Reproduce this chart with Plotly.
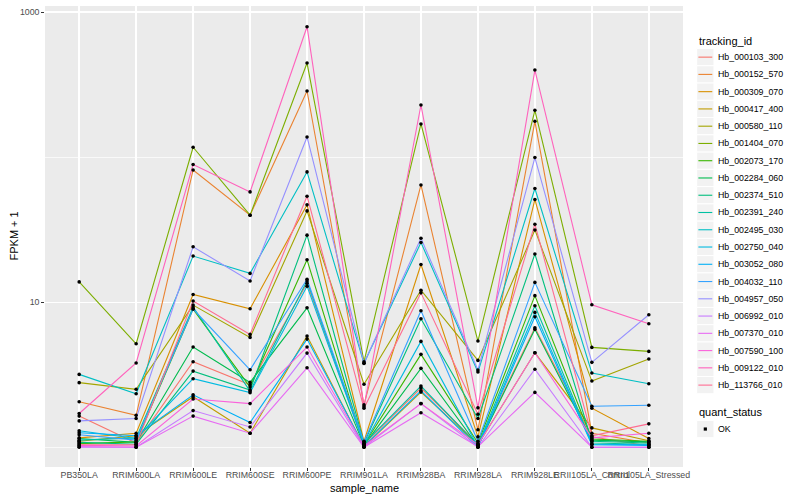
import plotly.graph_objects as go

# ---------------- data ----------------
sample_names = ["PB350LA", "RRIM600LA", "RRIM600LE", "RRIM600SE", "RRIM600PE",
                "RRIM901LA", "RRIM928BA", "RRIM928LA", "RRIM928LE",
                "RRII105LA_Control", "RRII105LA_Stressed"]

tracking_ids = ["Hb_000103_300", "Hb_000152_570", "Hb_000309_070", "Hb_000417_400",
                "Hb_000580_110", "Hb_001404_070", "Hb_002073_170", "Hb_002284_060",
                "Hb_002374_510", "Hb_002391_240", "Hb_002495_030", "Hb_002750_040",
                "Hb_003052_080", "Hb_004032_110", "Hb_004957_050", "Hb_006992_010",
                "Hb_007370_010", "Hb_007590_100", "Hb_009122_010", "Hb_113766_010"]

# FPKM per gene, one value per sample (the chart plots FPKM + 1)
hb_000103_300 = [0.64, 0.07, 2.89, 1.70, 12.5, 0.05, 1.56, 0.05, 5.66, 0.18, 0.02]
hb_000152_570 = [1.06, 0.66, 80.6, 38.8, 284.7, 0.96, 63.3, 0.32, 175.7, 0.25, 0.07]
hb_000309_070 = [0.16, 0.25, 10.3, 8.01, 45.9, 0.10, 17.2, 0.18, 50.1, 0.86, 0.15]
hb_000417_400 = [0.10, 0.20, 1.23, 0.25, 4.84, 0.01, 1.40, 0.04, 3.48, 0.36, 0.11]
hb_000580_110 = [1.79, 1.51, 8.55, 4.72, 41.6, 1.72, 11.1, 2.97, 30.5, 1.86, 3.06]
hb_001404_070 = [12.8, 4.17, 116.0, 38.8, 444.5, 2.89, 168.3, 4.40, 209.4, 3.88, 3.58]
hb_002073_170 = [0.06, 0.09, 7.97, 1.60, 18.6, 0.04, 3.37, 0.07, 10.1, 0.14, 0.10]
hb_002284_060 = [0.15, 0.08, 3.91, 1.80, 8.15, 0.03, 2.50, 0.02, 5.50, 0.12, 0.09]
hb_002374_510 = [0.08, 0.05, 2.35, 1.48, 28.0, 0.07, 6.69, 0.58, 20.5, 0.10, 0.07]
hb_002391_240 = [0.12, 0.16, 8.25, 1.44, 13.0, 0.06, 1.64, 0.03, 8.45, 0.07, 0.05]
hb_002495_030 = [2.18, 1.34, 19.8, 14.8, 78.1, 2.79, 24.8, 2.30, 59.8, 2.25, 1.74]
hb_002750_040 = [0.30, 0.15, 1.97, 1.38, 11.9, 0.05, 4.37, 0.01, 7.51, 0.05, 0.04]
hb_003052_080 = [0.26, 0.20, 1.30, 0.48, 4.57, 0.02, 1.45, 0.00, 6.93, 0.04, 0.03]
hb_004032_110 = [0.22, 0.12, 7.97, 2.42, 13.4, 0.09, 7.73, 0.10, 12.7, 0.92, 0.95]
hb_004957_050 = [0.52, 0.58, 23.1, 13.0, 136.8, 2.79, 26.6, 2.41, 98.4, 2.85, 7.19]
hb_006992_010 = [0.00, 0.00, 0.79, 0.38, 3.46, 0.00, 1.00, 0.00, 2.45, 0.00, 0.00]
hb_007370_010 = [0.01, 0.00, 0.64, 0.25, 2.53, 0.00, 0.73, 0.01, 1.39, 0.00, 0.00]
hb_007590_100 = [0.03, 0.02, 1.15, 1.00, 3.91, 0.02, 1.00, 0.04, 3.48, 0.16, 0.25]
hb_009122_010 = [0.71, 2.81, 87.9, 56.6, 792.0, 0.90, 227.8, 0.87, 397.6, 8.60, 6.10]
hb_113766_010 = [0.04, 0.04, 9.2, 5.0, 52.8, 0.86, 10.6, 0.69, 33.5, 0.20, 0.45]

quant_status = "OK"

y_tick_values = [10, 1000]
y_tick_labels = ["10", "1000"]
y_minor_values = [1, 100]

fpkm_by_gene = [hb_000103_300, hb_000152_570, hb_000309_070, hb_000417_400,
                hb_000580_110, hb_001404_070, hb_002073_170, hb_002284_060,
                hb_002374_510, hb_002391_240, hb_002495_030, hb_002750_040,
                hb_003052_080, hb_004032_110, hb_004957_050, hb_006992_010,
                hb_007370_010, hb_007590_100, hb_009122_010, hb_113766_010]

# ---------------- style ----------------
palette = ["#F8766D", "#EA8331", "#D89000", "#C09B00", "#A3A500", "#7CAE00", "#39B600",
           "#00BB4E", "#00BF7D", "#00C1A3", "#00BFC4", "#00BAE0", "#00B0F6", "#35A2FF",
           "#9590FF", "#C77CFF", "#E76BF3", "#FA62DB", "#FF62BC", "#FF6C91"]
FONT = "Liberation Sans, Arial, Helvetica, sans-serif"
W, H = 800, 500
PL, PR, PT, PB = 45.0, 683.3, 5.5, 467.0


def pxx(x):
    return (x - PL) / (PR - PL)


def pxy(y):
    return (PB - y) / (PB - PT)


fig = go.Figure()

for name, vals, col in zip(tracking_ids, fpkm_by_gene, palette):
    fig.add_trace(go.Scatter(
        x=sample_names, y=[v + 1 for v in vals], mode="lines", name=name,
        line=dict(color=col, width=1.1), showlegend=False, hoverinfo="skip"))

all_x, all_y = [], []
for vals in fpkm_by_gene:
    all_x += sample_names
    all_y += [v + 1 for v in vals]
fig.add_trace(go.Scatter(
    x=all_x, y=all_y, mode="markers", name=quant_status,
    marker=dict(color="black", size=3.6, symbol="circle", line=dict(width=0)),
    showlegend=False))

shapes = []
annotations = []

# legend: tracking_id
annotations.append(dict(x=pxx(697), y=pxy(40.7), xref="paper", yref="paper",
                        text="tracking_id", showarrow=False, xanchor="left",
                        yanchor="middle", font=dict(size=11, color="black", family=FONT)))
key_w = 17.28
for i, (name, col) in enumerate(zip(tracking_ids, palette)):
    cy = 56.7 + 17.28 * i
    shapes.append(dict(type="rect", xref="paper", yref="paper",
                       x0=pxx(697), x1=pxx(697 + key_w),
                       y0=pxy(cy - key_w / 2), y1=pxy(cy + key_w / 2),
                       fillcolor="#F2F2F2", line=dict(color="white", width=1)))
    shapes.append(dict(type="line", xref="paper", yref="paper",
                       x0=pxx(698.7), x1=pxx(697 + key_w - 1.7),
                       y0=pxy(cy), y1=pxy(cy),
                       line=dict(color=col, width=1.1)))
    annotations.append(dict(x=pxx(716.5), y=pxy(cy), xref="paper", yref="paper",
                            text=name, showarrow=False, xanchor="left", yanchor="middle",
                            font=dict(size=8.8, color="black", family=FONT)))

# legend: quant_status
annotations.append(dict(x=pxx(697), y=pxy(412.3), xref="paper", yref="paper",
                        text="quant_status", showarrow=False, xanchor="left",
                        yanchor="middle", font=dict(size=11, color="black", family=FONT)))
cy = 429.0
shapes.append(dict(type="rect", xref="paper", yref="paper",
                   x0=pxx(697), x1=pxx(697 + key_w),
                   y0=pxy(cy - key_w / 2), y1=pxy(cy + key_w / 2),
                   fillcolor="#F2F2F2", line=dict(color="white", width=1)))
shapes.append(dict(type="rect", xref="paper", yref="paper",
                   x0=pxx(697 + key_w / 2 - 1.6), x1=pxx(697 + key_w / 2 + 1.6),
                   y0=pxy(cy - 1.6), y1=pxy(cy + 1.6),
                   fillcolor="black", line=dict(width=0)))
annotations.append(dict(x=pxx(716.5), y=pxy(cy), xref="paper", yref="paper",
                        text=quant_status, showarrow=False, xanchor="left", yanchor="middle",
                        font=dict(size=8.8, color="black", family=FONT)))

# axis titles
annotations.append(dict(x=pxx((PL + PR) / 2), y=pxy(488.5), xref="paper", yref="paper",
                        text="sample_name", showarrow=False, xanchor="center",
                        yanchor="middle", font=dict(size=11, color="black", family=FONT)))
annotations.append(dict(x=pxx(13), y=pxy((PT + PB) / 2), xref="paper", yref="paper",
                        text="FPKM + 1", showarrow=False, textangle=-90, xanchor="center",
                        yanchor="middle", font=dict(size=11, color="black", family=FONT)))

fig.update_layout(
    width=W, height=H,
    margin=dict(l=PL, r=W - PR, t=PT, b=H - PB, pad=0),
    paper_bgcolor="white", plot_bgcolor="#EBEBEB",
    font=dict(family=FONT),
    showlegend=False,
    shapes=shapes, annotations=annotations,
    xaxis=dict(type="category", categoryorder="array", categoryarray=sample_names,
               range=[-0.6, len(sample_names) - 0.4], tickangle=0,
               showgrid=True, gridcolor="white", gridwidth=1.4,
               ticks="outside", ticklen=2.75, tickwidth=1, tickcolor="#333333",
               ticklabelstandoff=-3,
               tickfont=dict(size=8.8, color="#4D4D4D", family=FONT),
               showline=False, zeroline=False, fixedrange=True),
    yaxis=dict(type="log", range=[-0.136, 3.042],
               tickmode="array", tickvals=y_tick_values, ticktext=y_tick_labels,
               showgrid=True, gridcolor="white", gridwidth=1.4,
               minor=dict(tickmode="array", tickvals=y_minor_values, showgrid=True,
                          gridcolor="white", gridwidth=0.7, ticks=""),
               ticks="outside", ticklen=2.75, tickwidth=1, tickcolor="#333333",
               tickfont=dict(size=8.8, color="#4D4D4D", family=FONT),
               showline=False, zeroline=False, fixedrange=True),
)

fig.write_html("out.html",
               config={"displayModeBar": False, "staticPlot": True},
               post_script="document.body.style.margin='0px';"
                           "document.body.style.overflow='hidden';")
